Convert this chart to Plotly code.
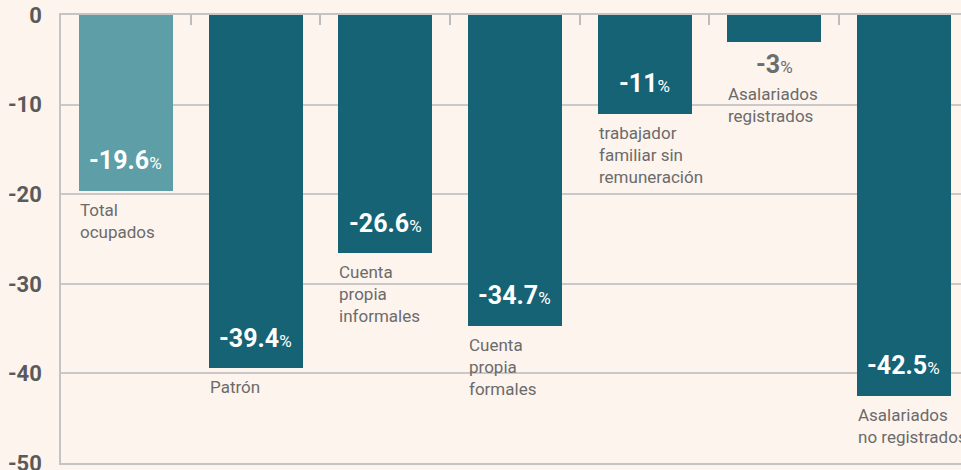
import plotly.graph_objects as go

# data
categories = ['Total<br>ocupados', 'Patrón', 'Cuenta<br>propia<br>informales',
              'Cuenta<br>propia<br>formales', 'trabajador<br>familiar sin<br>remuneración',
              'Asalariados<br>registrados', 'Asalariados<br>no registrados']
values = [-19.6, -39.4, -26.6, -34.7, -11, -3, -42.5]
value_labels = ['-19.6', '-39.4', '-26.6', '-34.7', '-11', '-3', '-42.5']
y_ticks = [0, -10, -20, -30, -40, -50]
y_ticktext = ['0', '-10', '-20', '-30', '-40', '-50']

FONT = 'Roboto, Liberation Sans Narrow, sans-serif'
BG = '#fdf4ee'
BAR_W = 0.725

x = list(range(len(values)))
colors = ['#5e9ea6'] + ['#166375'] * (len(values) - 1)

fig = go.Figure()
fig.add_trace(go.Bar(x=x, y=values, width=BAR_W, marker_color=colors,
                     marker_line_width=0, hoverinfo='skip'))

annotations = []
for i, (v, lab, cat) in enumerate(zip(values, value_labels, categories)):
    txt = '<b>' + lab + '</b><span style="font-size:17px">%</span>'
    if v < -8:
        # value inside bar, near the bottom
        annotations.append(dict(x=i, y=v, text=txt, showarrow=False,
                                yanchor='middle', yshift=30,
                                font=dict(family=FONT, size=25, color='white')))
        cat_shift = -7
    else:
        # short bar: value goes below it
        annotations.append(dict(x=i, y=v, text=txt, showarrow=False,
                                yanchor='top', yshift=-6,
                                font=dict(family=FONT, size=25, color='#6d6d6d')))
        cat_shift = -40
    annotations.append(dict(x=i - BAR_W / 2, y=v, text=cat, showarrow=False,
                            xanchor='left', yanchor='top', align='left',
                            yshift=cat_shift, xshift=-1,
                            font=dict(family=FONT, size=17, color='#6b6b6b')))

fig.update_layout(
    width=961, height=470,
    margin=dict(l=61, r=0, t=15, b=7),
    paper_bgcolor=BG, plot_bgcolor=BG,
    showlegend=False,
    annotations=annotations,
    bargap=0,
)
fig.update_xaxes(range=[-0.5, 6.44], side='top', showticklabels=False, automargin=False,
                 tickvals=[i + 0.5 for i in x[:-1]], ticks='inside', ticklen=10,
                 tickcolor='#bdbdbd', tickwidth=1.5,
                 showgrid=False, zeroline=False,
                 showline=True, linecolor='#c4c4c4', linewidth=1.5, mirror=True)
fig.update_yaxes(range=[-50, 0], tickvals=y_ticks, ticktext=y_ticktext, automargin=False,
                 ticks='', ticklabelstandoff=13, ticklabeloverflow='allow',
                 tickfont=dict(family=FONT, size=22, color='#5a5a5a', weight='bold'),
                 showgrid=True, gridcolor='#c9c9c9', gridwidth=1.5,
                 zeroline=False, showline=True, linecolor='#c4c4c4', linewidth=1.5)

# drop the default page margin so the figure sits at the window's corner
fig.write_html("out.html", config={'displayModeBar': False},
               post_script="document.body.style.margin='0';document.body.style.overflow='hidden';")
